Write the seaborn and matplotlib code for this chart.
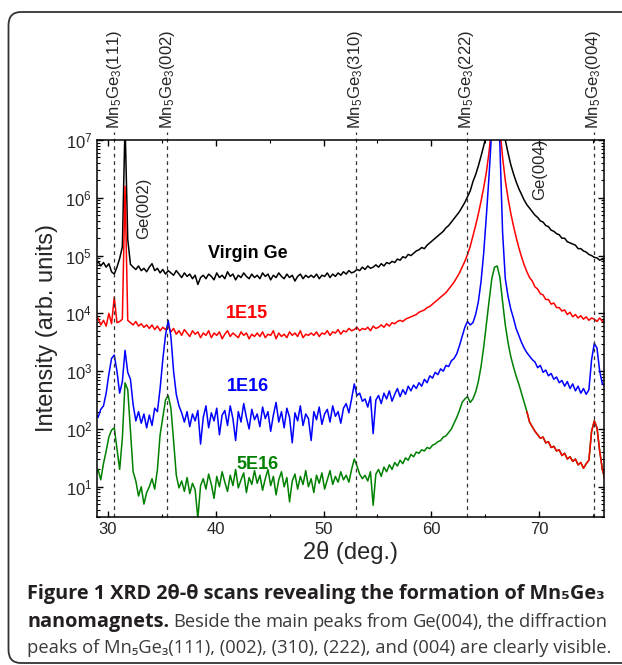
import numpy as np
import matplotlib
matplotlib.use('Agg')
import matplotlib.pyplot as plt
import matplotlib.transforms as mtransforms
import seaborn as sns
from matplotlib.patches import FancyBboxPatch
from matplotlib.ticker import MultipleLocator

# 2theta scan grid (deg), 0.25 deg steps
two_theta = 28.85 + 0.25 * np.arange(190)

# log10 of intensity, 20 points per row
virgin_log = np.array([
    4.85, 4.90, 4.82, 4.88, 4.80, 4.86, 4.72, 4.68, 4.80, 4.95, 5.15, 7.30, 5.28, 4.85, 4.80, 4.76, 4.82, 4.74, 4.78, 4.72,
    4.80, 4.86, 4.74, 4.78, 4.70, 4.76, 4.68, 4.74, 4.70, 4.66, 4.74, 4.68, 4.62, 4.70, 4.64, 4.68, 4.60, 4.66, 4.50, 4.62,
    4.66, 4.60, 4.68, 4.64, 4.58, 4.70, 4.62, 4.66, 4.60, 4.72, 4.64, 4.68, 4.58, 4.66, 4.62, 4.70, 4.64, 4.60, 4.68, 4.62,
    4.66, 4.60, 4.70, 4.64, 4.68, 4.58, 4.66, 4.62, 4.70, 4.64, 4.60, 4.68, 4.62, 4.66, 4.56, 4.64, 4.68, 4.60, 4.66, 4.62,
    4.66, 4.62, 4.68, 4.60, 4.66, 4.64, 4.70, 4.62, 4.68, 4.64, 4.70, 4.66, 4.72, 4.68, 4.74, 4.70, 4.72, 4.76, 4.74, 4.80,
    4.76, 4.82, 4.78, 4.80, 4.84, 4.80, 4.86, 4.82, 4.88, 4.86, 4.90, 4.88, 4.94, 4.92, 4.98, 4.96, 5.02, 5.00, 5.04, 5.08,
    5.10, 5.14, 5.12, 5.18, 5.22, 5.26, 5.30, 5.34, 5.38, 5.42, 5.48, 5.52, 5.58, 5.64, 5.70, 5.76, 5.84, 5.92, 6.02, 6.12,
    6.28, 6.40, 6.55, 6.72, 6.90, 7.10, 7.40, 7.80, 8.20, 8.20, 7.80, 7.30, 7.00, 6.78, 6.58, 6.42, 6.28, 6.16, 6.06, 5.96,
    5.88, 5.82, 5.76, 5.70, 5.66, 5.60, 5.58, 5.52, 5.50, 5.44, 5.42, 5.38, 5.36, 5.30, 5.30, 5.24, 5.22, 5.20, 5.18, 5.12,
    5.12, 5.08, 5.06, 5.02, 5.00, 4.97, 4.96, 4.92, 4.94, 4.90,
])

e15_log = np.array([
    3.85, 3.92, 3.80, 3.88, 3.78, 4.00, 3.82, 4.28, 3.84, 3.86, 3.90, 6.20, 3.88, 3.84, 3.80, 3.86, 3.78, 3.82, 3.76, 3.80,
    3.74, 3.80, 3.72, 3.78, 3.70, 3.76, 3.72, 3.78, 3.68, 3.74, 3.64, 3.70, 3.62, 3.72, 3.66, 3.60, 3.70, 3.64, 3.68, 3.58,
    3.66, 3.62, 3.70, 3.58, 3.66, 3.62, 3.68, 3.56, 3.64, 3.70, 3.60, 3.66, 3.62, 3.58, 3.68, 3.62, 3.66, 3.56, 3.64, 3.60,
    3.66, 3.60, 3.68, 3.58, 3.64, 3.62, 3.70, 3.56, 3.66, 3.60, 3.64, 3.58, 3.68, 3.62, 3.66, 3.60, 3.70, 3.58, 3.64, 3.62,
    3.66, 3.62, 3.68, 3.60, 3.66, 3.64, 3.70, 3.62, 3.68, 3.66, 3.72, 3.64, 3.70, 3.68, 3.74, 3.70, 3.72, 3.76, 3.70, 3.74,
    3.72, 3.76, 3.70, 3.78, 3.74, 3.76, 3.80, 3.76, 3.82, 3.78, 3.84, 3.82, 3.86, 3.88, 3.86, 3.90, 3.92, 3.94, 3.96, 3.98,
    4.02, 4.04, 4.06, 4.10, 4.12, 4.16, 4.20, 4.24, 4.28, 4.32, 4.36, 4.42, 4.48, 4.54, 4.62, 4.70, 4.80, 4.90, 5.02, 5.16,
    5.34, 5.52, 5.72, 5.94, 6.18, 6.45, 6.80, 7.30, 7.90, 7.90, 7.20, 6.70, 6.30, 6.00, 5.74, 5.52, 5.32, 5.14, 4.98, 4.84,
    4.72, 4.62, 4.56, 4.46, 4.42, 4.34, 4.32, 4.24, 4.24, 4.16, 4.18, 4.10, 4.10, 4.04, 4.06, 3.98, 4.02, 3.94, 3.98, 3.92,
    3.96, 3.90, 3.94, 3.88, 3.92, 3.90, 3.86, 3.92, 3.86, 3.88,
])

e16_log = np.array([
    2.26, 2.20, 2.34, 2.40, 2.62, 2.95, 3.22, 3.28, 3.00, 2.62, 2.82, 3.36, 2.98, 2.86, 2.42, 2.14, 2.30, 2.10, 2.26, 2.02,
    2.24, 2.06, 2.36, 2.30, 2.70, 3.20, 3.62, 3.88, 3.60, 3.00, 2.60, 2.40, 2.28, 2.12, 2.30, 2.04, 2.26, 2.14, 2.32, 1.74,
    2.20, 2.40, 2.02, 2.28, 2.14, 2.36, 1.90, 2.24, 2.32, 2.06, 2.40, 2.18, 1.80, 2.30, 2.12, 2.44, 2.20, 2.00, 2.34, 2.16,
    2.26, 2.04, 2.38, 2.18, 2.30, 1.96, 2.24, 2.46, 2.12, 2.30, 2.02, 2.36, 2.20, 1.76, 2.28, 2.14, 2.40, 2.06, 2.26, 2.18,
    1.80, 2.30, 2.16, 2.38, 2.08, 2.26, 2.34, 2.12, 2.40, 2.22, 2.30, 2.10, 2.36, 2.44, 2.28, 2.52, 2.78, 2.58, 2.62, 2.48,
    2.52, 2.38, 2.56, 1.92, 2.50, 2.58, 2.44, 2.62, 2.52, 2.66, 2.48, 2.60, 2.70, 2.56, 2.68, 2.60, 2.74, 2.66, 2.76, 2.70,
    2.80, 2.74, 2.86, 2.80, 2.92, 2.88, 2.98, 2.94, 3.04, 3.00, 3.10, 3.08, 3.18, 3.22, 3.30, 3.44, 3.60, 3.76, 3.86, 3.80,
    3.84, 3.98, 4.20, 4.55, 5.05, 5.70, 6.40, 7.20, 7.90, 7.90, 6.90, 5.40, 4.60, 4.30, 4.08, 3.92, 3.74, 3.62, 3.50, 3.40,
    3.32, 3.26, 3.20, 3.16, 3.06, 3.10, 2.98, 3.02, 2.92, 2.96, 2.86, 2.90, 2.80, 2.84, 2.74, 2.82, 2.70, 2.78, 2.66, 2.74,
    2.62, 2.70, 2.60, 2.68, 3.20, 3.48, 3.40, 3.00, 2.78, 2.74,
])

e5e16_log = np.array([
    1.20, 1.30, 1.12, 1.40, 1.62, 1.86, 1.98, 2.02, 1.66, 1.30, 1.84, 2.80, 2.68, 1.96, 1.26, 1.10, 0.84, 1.00, 0.70, 0.90,
    1.00, 1.14, 0.96, 1.30, 1.90, 2.20, 2.50, 2.58, 2.36, 1.80, 1.20, 0.98, 1.10, 0.92, 1.16, 0.88, 1.06, 0.95, 0.45, 1.02,
    1.14, 0.96, 1.22, 1.04, 0.80, 1.18, 1.00, 1.26, 1.08, 0.92, 1.20, 1.02, 1.30, 0.98, 1.12, 1.24, 0.90, 1.16, 1.04, 1.28,
    1.06, 1.20, 0.94, 1.14, 1.30, 1.02, 1.18, 0.86, 1.12, 1.26, 1.00, 1.16, 0.74, 1.10, 1.22, 0.96, 1.18, 1.04, 1.28, 1.00,
    1.14, 0.90, 1.20, 1.06, 1.24, 0.96, 1.12, 1.28, 1.04, 1.18, 1.08, 1.26, 1.12, 1.20, 1.08, 1.30, 1.48, 1.36, 1.22, 1.14,
    1.20, 1.10, 1.26, 0.68, 1.22, 1.30, 1.18, 1.34, 1.26, 1.38, 1.30, 1.42, 1.36, 1.46, 1.40, 1.50, 1.46, 1.56, 1.52, 1.60,
    1.58, 1.64, 1.62, 1.68, 1.66, 1.72, 1.74, 1.78, 1.80, 1.86, 1.88, 1.94, 2.00, 2.10, 2.20, 2.32, 2.46, 2.52, 2.56, 2.46,
    2.52, 2.64, 2.82, 3.08, 3.42, 3.82, 4.22, 4.60, 4.80, 4.82, 4.62, 4.20, 3.80, 3.50, 3.26, 3.08, 2.92, 2.78, 2.62, 2.46,
    2.30, 2.12, 2.04, 1.96, 1.90, 1.84, 1.86, 1.76, 1.78, 1.68, 1.70, 1.62, 1.64, 1.54, 1.58, 1.48, 1.52, 1.44, 1.48, 1.38,
    1.42, 1.32, 1.40, 1.46, 1.96, 2.14, 2.02, 1.62, 1.30, 1.12,
])

series_names = ['Virgin Ge', '1E15', '1E16', '5E16']
series_colors = ['black', '#ff0000', '#0000ff', '#008000']
label_pos = [(43.0, 5.04), (42.9, 4.0), (43.0, 2.74), (43.9, 1.38)]

# Mn5Ge3 reflections (dashed markers)
mn_peaks = [30.6, 35.5, 52.97, 63.27, 75.05]
mn_hkl = ['(111)', '(002)', '(310)', '(222)', '(004)']

caption_1 = 'Figure 1 XRD 2θ-θ scans revealing the formation of Mn₅Ge₃'
caption_2b = 'nanomagnets.'
caption_2 = 'Beside the main peaks from Ge(004), the diffraction'
caption_3 = 'peaks of Mn₅Ge₃(111), (002), (310), (222), and (004) are clearly visible.'

sns.set_theme(style='ticks')
plt.rcParams['font.family'] = ['Liberation Sans', 'DejaVu Sans']
plt.rcParams['mathtext.fontset'] = 'custom'
plt.rcParams['mathtext.rm'] = 'Liberation Sans'
plt.rcParams['mathtext.it'] = 'Liberation Sans:italic'
plt.rcParams['mathtext.bf'] = 'Liberation Sans:bold'

fig = plt.figure(figsize=(6.22, 6.65), dpi=100)
ax = fig.add_axes([97 / 622, 1 - 517 / 665, (604 - 97) / 622, (517 - 140) / 665])

curves = [virgin_log, e15_log, e16_log, e5e16_log]
for logs, col in zip(curves, series_colors):
    sns.lineplot(x=two_theta, y=10 ** logs, color=col, lw=1.1, ax=ax)
# tail of the 5E16 scan is drawn in red in the original figure
tail = two_theta >= 68.8
sns.lineplot(x=two_theta[tail], y=10 ** e5e16_log[tail], color='#ff0000', lw=1.1, ax=ax)

ax.set_yscale('log')
ax.set_xlim(29, 76)
ax.set_ylim(3, 1e7)
ax.xaxis.set_major_locator(MultipleLocator(10))
ax.xaxis.set_minor_locator(MultipleLocator(5))
ax.tick_params(which='both', direction='in', top=True, right=True, labelsize=12, color='black')
ax.tick_params(which='major', length=4, width=1)
ax.tick_params(which='minor', length=2.5, width=0.8)
for s in ax.spines.values():
    s.set_linewidth(1.1)
    s.set_color('black')

ax.set_xlabel('2θ (deg.)', fontsize=17, labelpad=3)
ax.set_ylabel('Intensity (arb. units)', fontsize=17, labelpad=5)

trans = mtransforms.blended_transform_factory(ax.transData, ax.transAxes)
for xp, hkl in zip(mn_peaks, mn_hkl):
    ax.axvline(xp, ymin=0, ymax=1.02, color='#333333', lw=0.9, ls=(0, (3, 3)), clip_on=False)
    ax.text(xp, 1.028, r'Mn$_5$Ge$_3$' + hkl, transform=trans, rotation=90,
            ha='center', va='bottom', fontsize=12)

ax.text(33.3, 10 ** 5.82, 'Ge(002)', rotation=90, ha='center', va='center', fontsize=12)
ax.text(70.0, 10 ** 6.5, 'Ge(004)', rotation=90, ha='center', va='center', fontsize=12)

for name, col, (lx, ly) in zip(series_names, series_colors, label_pos):
    ax.text(lx, 10 ** ly, name, color=col, fontsize=13, fontweight='bold', ha='center', va='center')

# frame around figure + caption
frame = FancyBboxPatch((8.5 / 622, 2 / 665), (700 - 8.5) / 622, (653 - 2) / 665,
                       boxstyle='round,pad=0,rounding_size=0.02', transform=fig.transFigure,
                       fill=False, ec='#333333', lw=1.3)
fig.patches.append(frame)

cap_font = ['Open Sans', 'DejaVu Sans']
left_px, right_px = 27, 607
renderer = fig.canvas.get_renderer()
dark, grey = '#231f20', '#3a3a3a'
reg_size = 13.2

# first caption line: one bold string, sized to span the text column
line1 = fig.text(left_px / 622, 1 - 599 / 665, caption_1, family=cap_font, fontweight='bold',
                 fontsize=12.6, color=dark, va='baseline')
w1 = line1.get_window_extent(renderer).width
bold_size = 12.6 * (right_px - left_px) / w1
line1.set_fontsize(bold_size)

# second line: justified words (bold lead-in then regular text)
pieces = [(caption_2b, 'bold', dark, bold_size)] + [(w, 'normal', grey, reg_size) for w in caption_2.split(' ')]
arts = [fig.text(0, 1 - 627 / 665, w, family=cap_font, fontweight=wt, fontsize=sz,
                 color=col, va='baseline') for w, wt, col, sz in pieces]
widths = [a.get_window_extent(renderer).width for a in arts]
gap = (right_px - left_px - sum(widths)) / (len(arts) - 1)
xpos = left_px
for a, w in zip(arts, widths):
    a.set_x(xpos / 622)
    xpos += w + gap

fig.text(left_px / 622, 1 - 653 / 665, caption_3, family=cap_font, fontsize=reg_size,
         color=grey, va='baseline')

fig.savefig('out.png', dpi=100)
